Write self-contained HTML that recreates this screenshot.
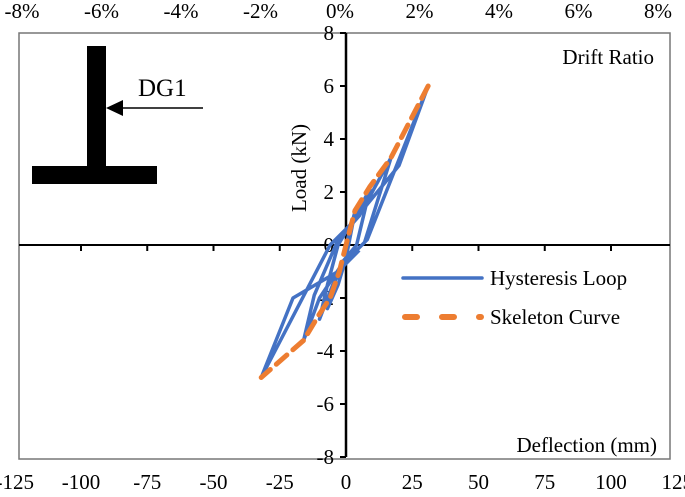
<!DOCTYPE html>
<html><head><meta charset="utf-8"><style>
body{margin:0;background:#fff}
svg text{font-family:"Liberation Serif",serif;fill:#000}
</style></head><body>
<svg id="chart" width="685" height="492" viewBox="0 0 685 492">
<rect x="19" y="33" width="651" height="426" fill="none" stroke="#777" stroke-width="1.5"/>
<g>
<rect x="87" y="46" width="19" height="120" fill="#000"/>
<rect x="32" y="166" width="125" height="18" fill="#000"/>
<line x1="118" y1="108" x2="203" y2="108" stroke="#000" stroke-width="1.5"/>
<polygon points="106,108 123,100 123,116" fill="#000"/>
<text x="138" y="96" font-size="25">DG1</text>
</g>
<g id="axes"></g>
<g id="series"></g>
<text x="654" y="64" font-size="21" text-anchor="end">Drift Ratio</text>
<text x="657" y="452" font-size="21" text-anchor="end">Deflection (mm)</text>
<text transform="translate(306,168) rotate(-90)" font-size="21" text-anchor="middle">Load (kN)</text>
<g>
<line x1="403" y1="278" x2="482" y2="278" stroke="#4472C4" stroke-width="3.5" stroke-linecap="round"/>
<text x="490" y="285" font-size="21">Hysteresis Loop</text>
<line x1="405" y1="317" x2="481" y2="317" stroke="#ED7D31" stroke-width="6" stroke-dasharray="12,25" stroke-linecap="round"/>
<text x="490" y="324" font-size="21">Skeleton Curve</text>
</g>
</svg>
<script>
const xTicks=[-125,-100,-75,-50,-25,0,25,50,75,100,125];
const yTicks=[-8,-6,-4,-2,0,2,4,6,8];
const driftTicks=["-8%","-6%","-4%","-2%","0%","2%","4%","6%","8%"];
const hystX=[0,3.5,0,-3,-7,-4,-1,4,9,3,-3,-7,-10,-5,0,7,17,5,-3,-12,-16,-10,-2,8,31,20,2,-6,-32,-20,-3,5];
const hystY=[0,1.3,-0.5,-1.5,-2.4,-1.2,-0.6,0,2.1,1,0,-1.5,-2.8,-1.5,-0.6,0.1,3.3,1.1,0.2,-1.9,-3.6,-2,-0.8,0.2,6,3,0.8,0,-5,-2,-1,-0.2];
const skelX=[31,17,9,3.4,0,-2.5,-6,-10,-16,-32];
const skelY=[6,3.3,2.2,1.3,0,-1,-2,-2.6,-3.6,-5];
const NS="http://www.w3.org/2000/svg";
const X=v=>346+v*2.65, Y=v=>245-v*26.5;
function mk(t,a,p){const e=document.createElementNS(NS,t);for(const k in a)e.setAttribute(k,a[k]);p.appendChild(e);return e;}
const ax=document.getElementById('axes'), se=document.getElementById('series');
let l=mk('line',{x1:19,y1:Y(0),x2:670,y2:Y(0),stroke:'#000','stroke-width':2},ax);


l=mk('line',{x1:X(0),y1:Y(8),x2:X(0),y2:Y(-8),stroke:'#000','stroke-width':2.5},ax);


xTicks.forEach(v=>{
 if(Math.abs(v)<125&&v!==0) mk('line',{x1:X(v),y1:Y(0),x2:X(v),y2:Y(0)+6,stroke:'#000','stroke-width':2},ax);
 const t=mk('text',{x:X(v),y:489,'font-size':21,'text-anchor':'middle'},ax);t.textContent=v;
 
 
});
yTicks.forEach(v=>{
 mk('line',{x1:X(0)-6,y1:Y(v),x2:X(0),y2:Y(v),stroke:'#000','stroke-width':2},ax);
 const t=mk('text',{x:X(0)-12,y:Y(v)+7,'font-size':21,'text-anchor':'end'},ax);t.textContent=v;
 
 
});
driftTicks.forEach((s,i)=>{
 const t=mk('text',{x:22+i*(658-22)/8,y:18,'font-size':21,'text-anchor':'middle'},ax);t.textContent=s;
 
 
});
let p=mk('polyline',{points:hystX.map((x,i)=>X(x)+','+Y(hystY[i])).join(' '),fill:'none',stroke:'#4472C4','stroke-width':3.5,'stroke-linejoin':'round'},se);


p=mk('polyline',{points:skelX.map((x,i)=>X(x)+','+Y(skelY[i])).join(' '),fill:'none',stroke:'#ED7D31','stroke-width':5,'stroke-dasharray':'14,8','stroke-linecap':'round'},se);


</script>
</body></html>
